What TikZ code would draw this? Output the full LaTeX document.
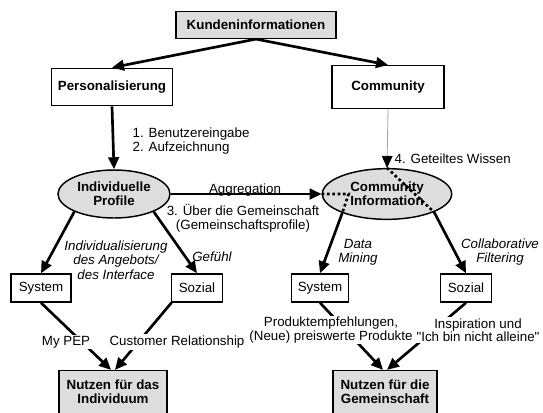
\documentclass[tikz,border=0pt]{standalone}
\usepackage{fontspec}
\setmainfont{Liberation Sans}[Ligatures=TeXOff]
\usetikzlibrary{shapes,arrows.meta}
\definecolor{BoxFill}{RGB}{221,221,221}
\newcommand{\grundschrift}{\fontsize{10}{10.8}\selectfont}
\tikzstyle{box} = [rectangle, draw=black, line width=1.1pt, inner sep=2pt, align=center, font=\grundschrift\bfseries]
\tikzstyle{topbox} = [box, fill=BoxFill]
\tikzstyle{profil} = [ellipse, draw=black, line width=1.1pt, fill=BoxFill, align=center, inner sep=0pt, font=\grundschrift\bfseries]
\tikzstyle{kanal} = [rectangle, draw=black, line width=1.1pt, minimum height=21pt, inner sep=2pt, font=\grundschrift]
\tikzstyle{flow} = [-{Stealth[inset=0pt,length=9pt,width=8pt]}, line width=2pt]
\tikzstyle{lbl} = [align=center, inner sep=1pt, font=\grundschrift]
\tikzstyle{kursiv} = [lbl, font=\grundschrift\itshape]
\tikzstyle{punkte} = [line width=2pt, dash pattern=on 2pt off 2pt]

\begin{document}
\begin{tikzpicture}[x=0.75pt,y=-0.75pt]
\clip (0,0) rectangle (543,412);
% obere Ebene
\node[topbox, minimum width=120pt, minimum height=20pt] (kunden) at (256,25) {Kundeninformationen};
\node[box, minimum width=91pt, minimum height=28pt] (pers) at (112,87) {Personalisierung};
\node[box, minimum width=84pt, minimum height=32pt] (comm) at (388,87) {Community};
% Profile
\node[profil, minimum width=84pt, minimum height=36pt] (ip) at (114,194) {Individuelle\\Profile};
\node[profil, minimum width=97pt, minimum height=38pt] (ci) at (387,194) {Community\\Information};
% Kanaele
\node[kanal, minimum width=45pt] (sysI) at (41,288) {System};
\node[kanal, minimum width=38pt] (sozI) at (197,288) {Sozial};
\node[kanal, minimum width=43pt] (sysG) at (320,288) {System};
\node[kanal, minimum width=38pt] (sozG) at (466,288) {Sozial};
% Nutzen
\node[topbox, minimum width=81pt, minimum height=32pt] (nutI) at (113,392) {Nutzen für das\\Individuum};
\node[topbox, minimum width=78pt, minimum height=32pt] (nutG) at (385,392) {Nutzen für die\\Gemeinschaft};

\draw[flow] (kunden.south) -- (pers.north);
\draw[flow] (kunden.south) -- (comm.north);
\draw[flow] (pers.south) -- (ip.north);
\draw[flow] (ip.east) -- (ci.west);
\draw[-{Stealth[inset=0pt,length=9pt,width=8pt,black]}, gray!70, line width=0.6pt] (comm.south) -- (ci.north);
\draw[punkte] (ci.west) -- ++(27,0) -- (ci.-157);
\draw[punkte] (ci.north) -- (ci.-21);

\draw[flow] (ip.-156) -- (sysI.north);
\draw[flow] (ip.-24) -- (sozI.north);
\draw[flow] (ci.-157) -- (sysG.north);
\draw[flow] (ci.-21) -- (sozG.north);
\draw[flow] (sysI.south) -- (nutI.95);
\draw[flow] (sozI.-150) -- (nutI.85);
\draw[flow] (sysG.south) -- (nutG.95);
\draw[flow] (sozG.south) -- (nutG.85);

% Beschriftungen
\node[lbl, align=left, anchor=west] (schritt12) at (131,141) {1. Benutzereingabe\\2. Aufzeichnung};
\node[lbl] (aggr) at (245,190) {Aggregation};
\node[lbl] (schritt3) at (243,218) {3. Über die Gemeinschaft\\(Gemeinschaftsprofile)};
\node[lbl, anchor=west] (schritt4) at (393,159) {4. Geteiltes Wissen};
\node[kursiv] (indiv) at (116,260) {Individualisierung\\des Angebots/\\des Interface};
\node[kursiv] (gefuehl) at (212,257) {Gefühl};
\node[kursiv] (mining) at (358,252) {Data\\Mining};
\node[kursiv] (filter) at (500,252) {Collaborative\\Filtering};
\node[lbl, fill=white] (pep) at (66,342) {My PEP};
\node[lbl, fill=white] (crm) at (177,342) {Customer Relationship};
\node[lbl, fill=white, font=\fontsize{10}{10}\selectfont] (produkte) at (331,330) {Produktempfehlungen,\\(Neue) preiswerte Produkte};
\node[lbl, fill=white, font=\fontsize{10}{10}\selectfont] (inspiration) at (478,330) {Inspiration und\\"Ich bin nicht alleine"};
\end{tikzpicture}
\end{document}
